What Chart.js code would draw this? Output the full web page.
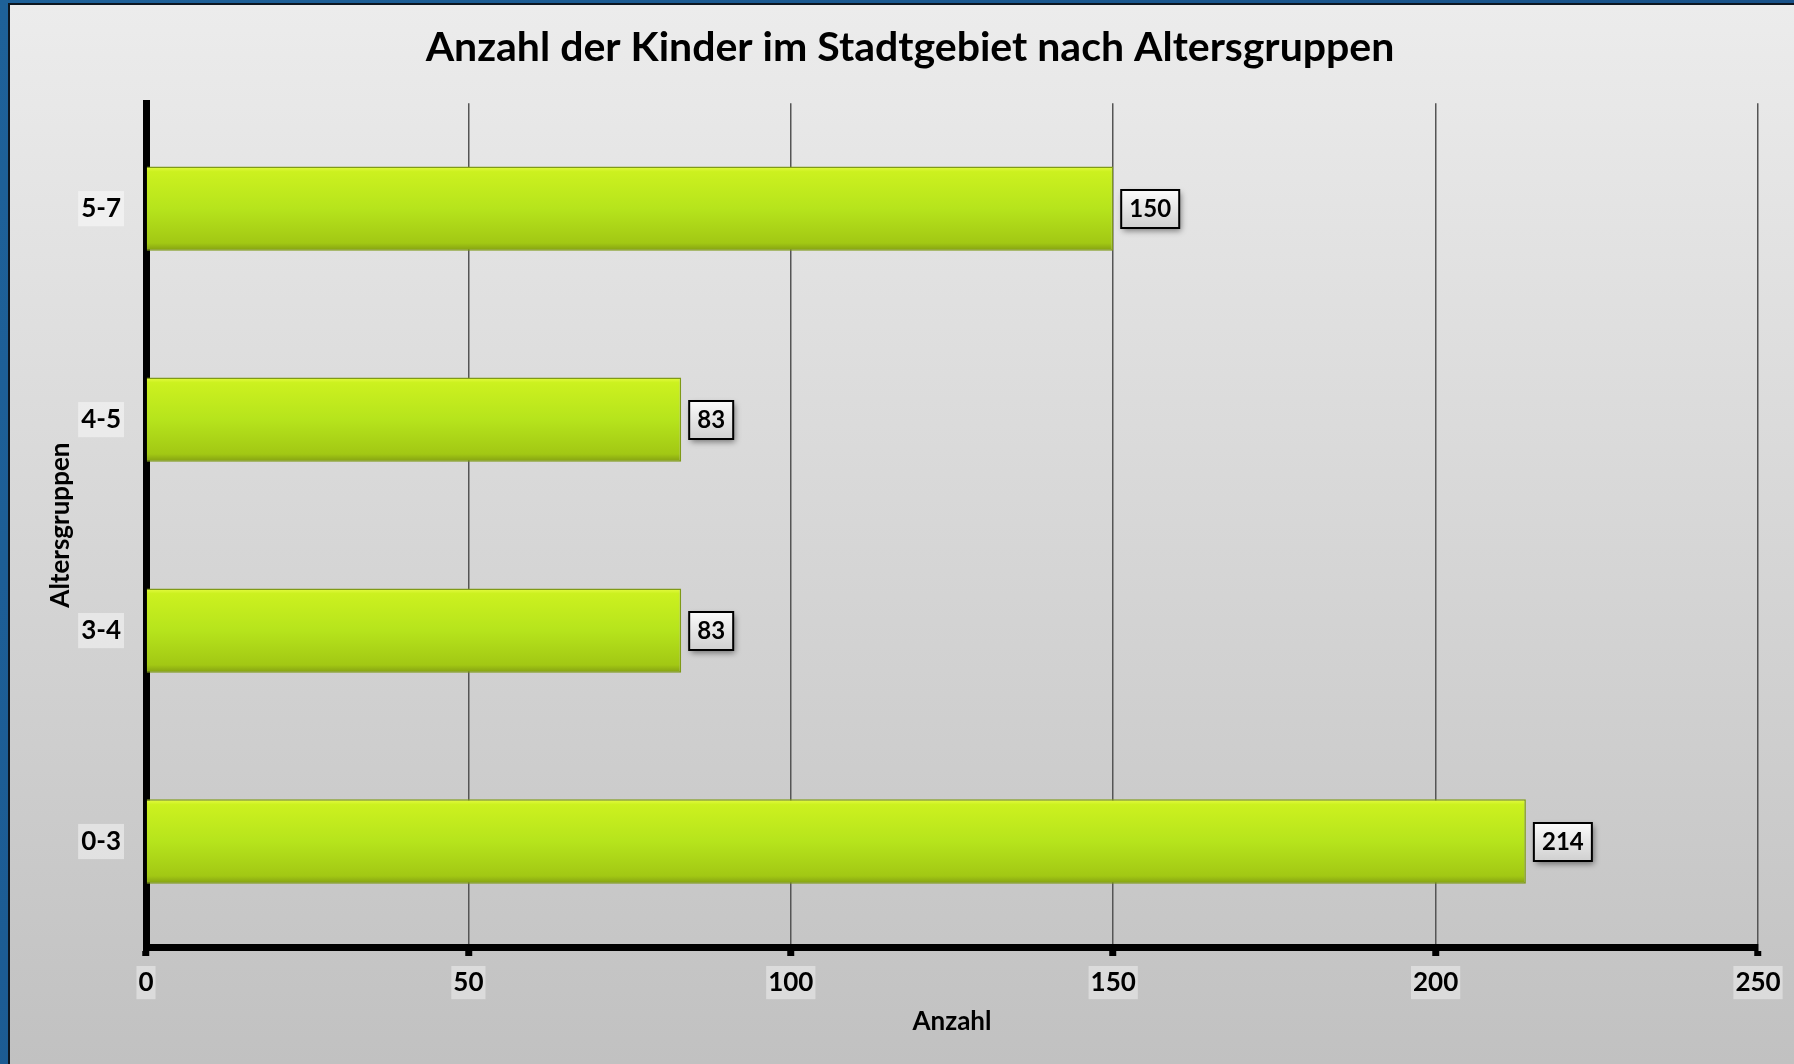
<!DOCTYPE html>
<html>
<head>
<meta charset="utf-8">
<script src="https://cdn.jsdelivr.net/npm/chart.js@4.4.1/dist/chart.umd.min.js"></script>
<style>
    html, body { margin: 0; padding: 0; background: #1b5a91; }
    canvas { display: block; }
</style>
</head>
<body>
<canvas id="kinderChart" width="1794" height="1064"></canvas>
<script>
// Werte aus dem Diagramm
const altersgruppen = ['0-3', '3-4', '4-5', '5-7'];
const anzahl = [214, 83, 83, 150];
const anzahlTicks = [0, 50, 100, 150, 200, 250];

const schrift = 'Lato';

// grauer Kartenhintergrund mit blauem Rand
const cardBackground = {
    id: 'cardBackground',
    beforeDraw(chart) {
        const { ctx, width, height } = chart;
        ctx.save();
        const blau = ctx.createLinearGradient(0, 0, width, height);
        blau.addColorStop(0, '#1e6199');
        blau.addColorStop(1, '#164c83');
        ctx.fillStyle = blau;
        ctx.fillRect(0, 0, width, height);
        ctx.fillStyle = '#0d1620';
        ctx.fillRect(8, 3, width - 8, height - 3);
        const grau = ctx.createLinearGradient(0, 5, 0, height);
        grau.addColorStop(0, '#ececec');
        grau.addColorStop(1, '#c1c1c1');
        ctx.fillStyle = grau;
        ctx.fillRect(10, 5, width - 10, height - 5);
        ctx.restore();
    }
};

// Wertebeschriftung in Kästchen rechts neben den Balken
const wertLabels = {
    id: 'wertLabels',
    afterDatasetsDraw(chart) {
        const { ctx } = chart;
        const meta = chart.getDatasetMeta(0);
        ctx.save();
        ctx.font = 'bold 24px ' + schrift;
        meta.data.forEach((bar, i) => {
            const text = String(anzahl[i]);
            const w = Math.round(ctx.measureText(text).width + 16);
            const h = 38;
            const x = bar.x + 8;
            const y = Math.round(bar.y - h / 2);
            ctx.shadowColor = 'rgba(0,0,0,0.45)';
            ctx.shadowBlur = 6;
            ctx.shadowOffsetX = 2;
            ctx.shadowOffsetY = 3;
            const g = ctx.createLinearGradient(0, y, 0, y + h);
            g.addColorStop(0, '#fbfbfb');
            g.addColorStop(1, '#d0d0d0');
            ctx.fillStyle = g;
            ctx.fillRect(x, y, w, h);
            ctx.shadowColor = 'transparent';
            ctx.lineWidth = 2;
            ctx.strokeStyle = '#000';
            ctx.strokeRect(x, y, w, h);
            ctx.fillStyle = '#000';
            ctx.textAlign = 'center';
            ctx.textBaseline = 'middle';
            ctx.fillText(text, x + w / 2, bar.y + 1);
        });
        ctx.restore();
    }
};

function balkenFarbe(context) {
    const chart = context.chart;
    if (!chart.chartArea) return '#b5e41c';
    const y = chart.scales.y.getPixelForValue(context.dataIndex);
    const half = 43;
    const g = chart.ctx.createLinearGradient(0, y - half, 0, y + half);
    g.addColorStop(0, '#eafd4a');
    g.addColorStop(0.07, '#ccf11f');
    g.addColorStop(0.5, '#b6e41c');
    g.addColorStop(0.9, '#a2c814');
    g.addColorStop(1, '#7f9a12');
    return g;
}

const ctx = document.querySelector('#kinderChart').getContext('2d');

new Chart(ctx, {
    type: 'bar',
    data: {
        labels: altersgruppen,
        datasets: [{
            label: 'Anzahl',
            data: anzahl,
            backgroundColor: balkenFarbe,
            borderColor: '#7f9a16',
            borderWidth: 1.5,
            barPercentage: 0.4,
            categoryPercentage: 1
        }]
    },
    options: {
        indexAxis: 'y',
        responsive: false,
        animation: false,
        layout: {
            padding: { left: 62, right: 36, top: 0, bottom: 0 }
        },
        plugins: {
            legend: { display: false },
            tooltip: { enabled: false },
            title: {
                display: true,
                text: 'Anzahl der Kinder im Stadtgebiet nach Altersgruppen',
                color: '#000',
                font: { family: schrift, size: 41, weight: 'bold', lineHeight: 1.2 },
                padding: { top: 23, bottom: 31 }
            }
        },
        scales: {
            x: {
                min: 0,
                max: 250,
                afterBuildTicks: (scale) => {
                    scale.ticks = anzahlTicks.map(v => ({ value: v }));
                },
                afterFit: (scale) => { scale.height = 1064 - 947; },
                grid: {
                    color: '#555',
                    lineWidth: 1.5,
                    tickColor: '#000',
                    tickWidth: 7,
                    tickLength: 9
                },
                border: { color: '#000', width: 7 },
                ticks: {
                    color: '#000',
                    font: { family: schrift, size: 26, weight: 'bold' },
                    padding: 11,
                    showLabelBackdrop: true,
                    backdropColor: 'rgba(255,255,255,0.4)',
                    backdropPadding: { x: 2, y: 1 }
                },
                title: {
                    display: true,
                    text: 'Anzahl',
                    color: '#000',
                    font: { family: schrift, size: 26, weight: 'bold', lineHeight: 1.2 },
                    padding: { bottom: 27 }
                }
            },
            y: {
                reverse: true,
                afterFit: (scale) => { scale.width = 146 - 62; },
                grid: { display: false, drawTicks: false },
                border: { color: '#000', width: 7 },
                ticks: {
                    color: '#000',
                    font: { family: schrift, size: 26, weight: 'bold' },
                    padding: 25,
                    showLabelBackdrop: true,
                    backdropColor: 'rgba(255,255,255,0.45)',
                    backdropPadding: { x: 3, y: 2 }
                },
                title: {
                    display: true,
                    text: 'Altersgruppen',
                    color: '#000',
                    font: { family: schrift, size: 26, weight: 'bold', lineHeight: 1.2 },
                    padding: { top: -17 }
                }
            }
        }
    },
    plugins: [cardBackground, wertLabels]
});
</script>
</body>
</html>
